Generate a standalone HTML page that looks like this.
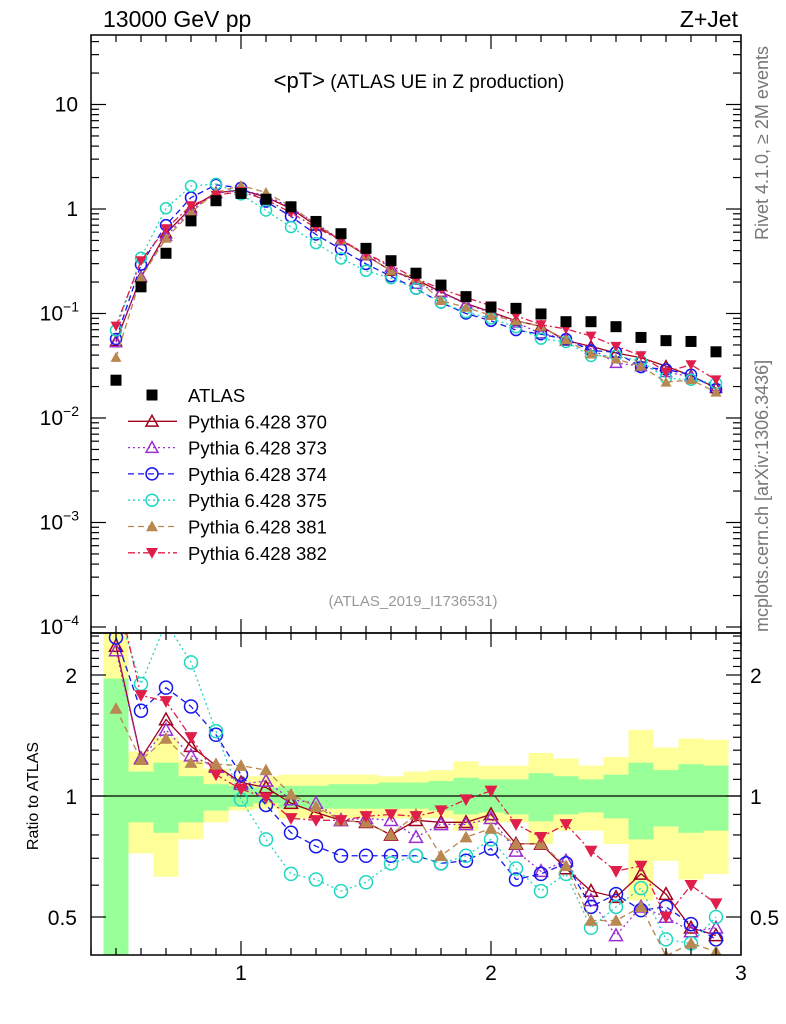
<!DOCTYPE html>
<html><head><meta charset="utf-8">
<style>
body{margin:0;background:#fff;}
svg{display:block;font-family:"Liberation Sans",sans-serif;}
</style></head>
<body>
<svg id="chart" width="786" height="1024" viewBox="0 0 786 1024" xmlns="http://www.w3.org/2000/svg">
<text x="103" y="27" font-size="23">13000 GeV pp</text>
<text x="738" y="27" font-size="23" text-anchor="end">Z+Jet</text>
<text x="419" y="88" text-anchor="middle"><tspan font-size="22">&lt;pT&gt;</tspan><tspan font-size="19"> (ATLAS UE in Z production)</tspan></text>
<text x="413" y="606" font-size="15" fill="#999" text-anchor="middle">(ATLAS_2019_I1736531)</text>
<text transform="translate(768,240) rotate(-90)" font-size="18" fill="#777">Rivet 4.1.0, ≥ 2M events</text>
<text transform="translate(768,632) rotate(-90)" font-size="18" fill="#777">mcplots.cern.ch [arXiv:1306.3436]</text>
<text transform="translate(38,796) rotate(-90)" font-size="16" text-anchor="middle">Ratio to ATLAS</text>
<g id="bands"></g>
<g id="ratio"></g>
<g id="main"></g>
<g id="axes"></g>
<g id="legend"></g>
</svg>
<script>
const xs=[0.5,0.6,0.7,0.8,0.9,1.0,1.1,1.2,1.3,1.4,1.5,1.6,1.7,1.8,1.9,2.0,2.1,2.2,2.3,2.4,2.5,2.6,2.7,2.8,2.9];
const atlas=[0.023,0.18,0.377,0.77,1.2,1.41,1.24,1.05,0.76,0.58,0.42,0.32,0.243,0.187,0.145,0.115,0.112,0.099,0.0835,0.0835,0.0748,0.059,0.055,0.054,0.043];
const r370=[2.36,1.24,1.55,1.33,1.19,1.08,1.05,0.96,0.91,0.87,0.86,0.80,0.87,0.86,0.86,0.90,0.76,0.76,0.66,0.58,0.56,0.64,0.57,0.47,0.45];
const r373=[2.3,1.24,1.46,1.26,1.18,1.07,1.09,0.98,0.96,0.87,0.88,0.87,0.79,0.85,0.85,0.88,0.73,0.65,0.69,0.55,0.45,0.53,0.50,0.46,0.47];
const r374=[2.48,1.63,1.86,1.67,1.42,1.13,0.95,0.81,0.75,0.71,0.71,0.71,0.71,0.68,0.69,0.74,0.62,0.64,0.68,0.53,0.57,0.52,0.53,0.48,0.44];
const r375=[3.0,1.90,2.7,2.15,1.45,0.98,0.78,0.64,0.62,0.58,0.61,0.68,0.71,0.68,0.71,0.78,0.66,0.58,0.64,0.47,0.53,0.59,0.44,0.43,0.50];
const r381=[1.65,1.23,1.39,1.21,1.20,1.19,1.16,1.01,0.94,0.87,0.86,0.80,0.90,0.71,0.79,0.83,0.76,0.76,0.67,0.49,0.49,0.53,0.40,0.43,0.41];
const r382=[3.3,1.78,1.72,1.40,1.13,1.04,0.99,0.88,0.87,0.87,0.89,0.90,0.89,0.92,0.98,1.03,0.85,0.79,0.85,0.73,0.65,0.67,0.50,0.60,0.54];
const yelHi=[2.6,1.29,1.40,1.23,1.17,1.12,1.12,1.13,1.13,1.13,1.13,1.12,1.15,1.16,1.22,1.19,1.19,1.28,1.24,1.19,1.25,1.46,1.32,1.39,1.38];
const yelLo=[0.3,0.72,0.63,0.78,0.86,0.92,0.93,0.88,0.88,0.88,0.88,0.88,0.88,0.88,0.82,0.86,0.86,0.76,0.82,0.82,0.76,0.55,0.69,0.62,0.64];
const grnHi=[1.96,1.15,1.21,1.12,1.07,1.06,1.05,1.06,1.06,1.07,1.07,1.08,1.08,1.09,1.11,1.10,1.10,1.14,1.12,1.10,1.13,1.21,1.16,1.20,1.19];
const grnLo=[0.3,0.86,0.81,0.86,0.92,0.94,0.96,0.93,0.93,0.93,0.93,0.93,0.93,0.92,0.90,0.91,0.90,0.865,0.90,0.91,0.88,0.78,0.84,0.81,0.82];
const yTickLabels=["10","1","10<sup>−1</sup>","10<sup>−2</sup>","10<sup>−3</sup>","10<sup>−4</sup>"];

const NS="http://www.w3.org/2000/svg";
const L=91,R=741,MT=35,MB=633,RB=955;
const X=v=>L+(v-0.4)/2.6*(R-L);
const Y=v=>209-104.5*Math.log10(v);
const RY=v=>796-121*Math.log2(v);
function mk(tag,attrs,parent){const e=document.createElementNS(NS,tag);for(const k in attrs)e.setAttribute(k,attrs[k]);parent.appendChild(e);return e;}
const svg=document.getElementById('chart');
const defs=mk('defs',{},svg);
const cp1=mk('clipPath',{id:'cm'},defs);mk('rect',{x:L,y:MT,width:R-L,height:MB-MT},cp1);
const cp2=mk('clipPath',{id:'cr'},defs);mk('rect',{x:L,y:MB,width:R-L,height:RB-MB},cp2);

const gb=document.getElementById('bands');gb.setAttribute('clip-path','url(#cr)');
xs.forEach((x,i)=>{
  const x0=X(x-0.05),w=X(x+0.05)-x0;
  const y=mk('rect',{x:x0,y:RY(yelHi[i]),width:w,height:RY(yelLo[i])-RY(yelHi[i]),fill:'#ffff99'},gb);
  
  
  const g=mk('rect',{x:x0,y:RY(grnHi[i]),width:w,height:RY(grnLo[i])-RY(grnHi[i]),fill:'#99ff99'},gb);
  
  
});
mk('line',{x1:L,x2:R,y1:RY(1),y2:RY(1),stroke:'#000','stroke-width':1.3},gb);

const series=[
 {name:'Pythia 6.428 370',r:r370,col:'#a0001e',dash:'',m:'tri-open'},
 {name:'Pythia 6.428 373',r:r373,col:'#9a30d0',dash:'2,3',m:'tri-open'},
 {name:'Pythia 6.428 374',r:r374,col:'#1515ee',dash:'6,4',m:'circ'},
 {name:'Pythia 6.428 375',r:r375,col:'#20d8c0',dash:'2,3',m:'circ'},
 {name:'Pythia 6.428 381',r:r381,col:'#b88850',dash:'6,4',m:'tri'},
 {name:'Pythia 6.428 382',r:r382,col:'#e01e4a',dash:'7,3,2,3',m:'tri-down'}
];
function marker(type,cx,cy,col,parent,s){
  s=s||6;
  if(type==='circ')return mk('circle',{cx,cy,r:s,fill:'none',stroke:col,'stroke-width':1.5},parent);
  if(type==='tri-open')return mk('polygon',{points:`${cx},${cy-s} ${cx-s},${cy+s*0.8} ${cx+s},${cy+s*0.8}`,fill:'none',stroke:col,'stroke-width':1.5},parent);
  if(type==='tri')return mk('polygon',{points:`${cx},${cy-s} ${cx-s},${cy+s*0.8} ${cx+s},${cy+s*0.8}`,fill:col},parent);
  if(type==='tri-down')return mk('polygon',{points:`${cx},${cy+s} ${cx-s},${cy-s*0.8} ${cx+s},${cy-s*0.8}`,fill:col},parent);
  if(type==='sq')return mk('rect',{x:cx-s,y:cy-s,width:2*s,height:2*s,fill:col},parent);
}
const gm=document.getElementById('main');gm.setAttribute('clip-path','url(#cm)');
const gr=document.getElementById('ratio');gr.setAttribute('clip-path','url(#cr)');
series.forEach(s=>{
  const mv=s.r.map((r,i)=>r*atlas[i]);
  const p1=mk('polyline',{points:xs.map((x,i)=>X(x)+','+Y(mv[i])).join(' '),fill:'none',stroke:s.col,'stroke-width':1.3,'stroke-dasharray':s.dash},gm);
  
  
  const p2=mk('polyline',{points:xs.map((x,i)=>X(x)+','+RY(s.r[i])).join(' '),fill:'none',stroke:s.col,'stroke-width':1.3,'stroke-dasharray':s.dash},gr);
  
  
  xs.forEach((x,i)=>{
    const a=marker(s.m,X(x),Y(mv[i]),s.col,gm,5.5);
    
    
    const b=marker(s.m,X(x),RY(s.r[i]),s.col,gr,6.5);
    
    
  });
});
xs.forEach((x,i)=>{
  const d=marker('sq',X(x),Y(atlas[i]),'#000',gm,5.5);
  
  
});

const ga=document.getElementById('axes');
mk('rect',{x:L,y:MT,width:R-L,height:MB-MT,fill:'none',stroke:'#000','stroke-width':1.5},ga);
mk('rect',{x:L,y:MB,width:R-L,height:RB-MB,fill:'none',stroke:'#000','stroke-width':1.5},ga);
const tl=(x1,y1,x2,y2)=>mk('line',{x1,y1,x2,y2,stroke:'#000','stroke-width':1.2},ga);
for(let k=0;k<=26;k++){
  const v=0.4+k*0.1, xx=X(v), maj=Math.abs(v-Math.round(v))<1e-6;
  const len=maj?14:7;
  tl(xx,MT,xx,MT+len);tl(xx,MB,xx,MB-len);tl(xx,MB,xx,MB+len);tl(xx,RB,xx,RB-len);
  if(maj){const t=mk('text',{x:xx,y:980,'font-size':21,'text-anchor':'middle'},ga);t.textContent=String(Math.round(v));
    }
}
for(let e=-4;e<=1;e++){
  for(let m=1;m<10;m++){
    const v=m*Math.pow(10,e), yy=Y(v);
    if(yy<MT||yy>MB)continue;
    const len=m===1?15:8;
    tl(L,yy,L+len,yy);tl(R,yy,R-len,yy);
  }
}
yTickLabels.forEach((lab,i)=>{
  const v=Math.pow(10,1-i), yy=Y(v);
  const t=mk('text',{x:78,y:yy+7,'font-size':21,'text-anchor':'end'},ga);
  if(lab.indexOf('<sup>')>=0){const parts=lab.split('<sup>');t.textContent=parts[0];
    const s=mk('tspan',{'font-size':14,dy:-9},t);s.textContent=parts[1].replace('</sup>','');t.setAttribute('x',79);}
  else t.textContent=lab;
  
  
});
for(let k=4;k<=25;k++){
  const v=k/10,yy=RY(v);
  if(yy<MB||yy>RB)continue;
  const maj=(v===0.5||v===1||v===2);
  const len=maj?15:8;
  tl(L,yy,L+len,yy);tl(R,yy,R-len,yy);
}
[[2,'2'],[1,'1'],[0.5,'0.5']].forEach(([v,s])=>{
  const a=mk('text',{x:77,y:RY(v)+8,'font-size':21,'text-anchor':'end'},ga);a.textContent=s;
  
  const b=mk('text',{x:750,y:RY(v)+8,'font-size':21},ga);b.textContent=s;
  
});

const gl=document.getElementById('legend');
const ent=[{name:'ATLAS',col:'#000',dash:null,m:'sq'}].concat(series);
ent.forEach((s,i)=>{
  const yy=395+i*26.3;
  const g=mk('g',{},gl);
  
  
  if(s.dash!==null)mk('line',{x1:128,x2:177,y1:yy,y2:yy,stroke:s.col,'stroke-width':1.3,'stroke-dasharray':s.dash},g);
  marker(s.m,152,yy,s.col,g,s.m==='sq'?5.5:6);
  const t=mk('text',{x:188,y:yy+7,'font-size':18.5},g);t.textContent=s.name;
});
</script>
</body></html>
